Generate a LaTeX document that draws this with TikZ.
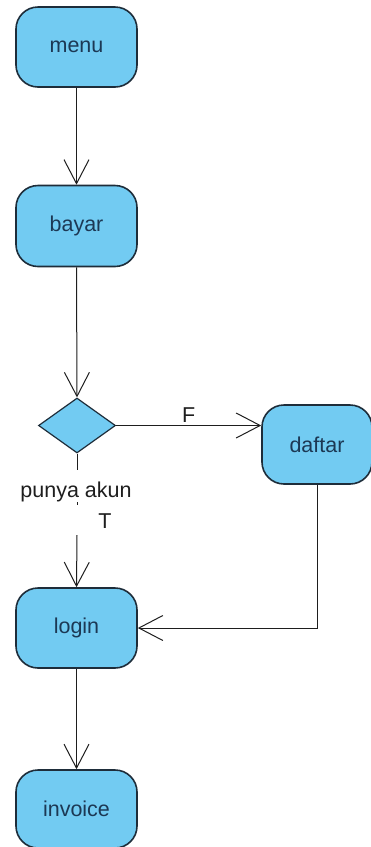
\documentclass[tikz,border=0pt]{standalone}
\usepackage{fontspec}
\setmainfont{Liberation Sans}
\usetikzlibrary{arrows.meta,shapes.geometric,calc}
\definecolor{actfill}{RGB}{114,203,242}
\definecolor{actborder}{RGB}{30,45,58}
\definecolor{acttext}{RGB}{28,56,84}
\definecolor{linec}{RGB}{30,30,30}
\begin{document}
\begin{tikzpicture}[x=1pt,y=-1pt,
  act/.style={draw=actborder,fill=actfill,line width=1.6pt,rounded corners=22pt,
    minimum width=121pt,minimum height=80pt,inner sep=0pt,text=acttext,
    font=\fontsize{21.5}{25}\selectfont},
  dec/.style={draw=actborder,fill=actfill,line width=1.2pt,diamond,aspect=1.4,
    minimum width=77pt,minimum height=55pt,inner sep=0pt},
  flow/.style={draw=linec,line width=1pt,-{Straight Barb[length=24pt,width=25pt,line width=1pt]}},
  plain/.style={draw=linec,line width=1pt},
  lbl/.style={text=linec,font=\fontsize{21.5}{25}\selectfont,inner sep=1pt}]
\useasboundingbox (0,0) rectangle (371,847);
\fill[white] (0,0) rectangle (371,847);
\node[act] (menu) at (76.5,47) {menu};
\node[act,minimum height=81pt] (bayar) at (76.5,226) {bayar};
\node[dec] (dec) at (77,425.5) {};
\node[act,minimum width=110pt,minimum height=79pt] (daftar) at (317,444.5) {daftar};
\node[act] (login) at (76.5,628) {login};
\node[act,minimum height=78pt] (invoice) at (76.5,809) {invoice};
\coordinate (g1) at (77,470);
\coordinate (g2) at (77,535);
\coordinate (d1) at (77,502);
\coordinate (d2) at (77,505);
\draw[flow] (menu.south) -- (bayar.north);
\draw[flow] (bayar.south) -- (dec.north);
\draw[flow] (dec.east) -- (dec.east -| daftar.west) node[lbl,midway,above=2pt] (F) {F};
\draw[plain] (dec.south) -- (g1);
\draw[plain] (d1) -- (d2);
\draw[flow] (g2) -- (login.north);
\node[lbl] (punya) at (76,492) {punya akun};
\node[lbl] (T) at (105,521) {T};
\draw[flow] (daftar.south) |- (login.east);
\draw[flow] (login.south) -- (invoice.north);
\end{tikzpicture}
\end{document}
